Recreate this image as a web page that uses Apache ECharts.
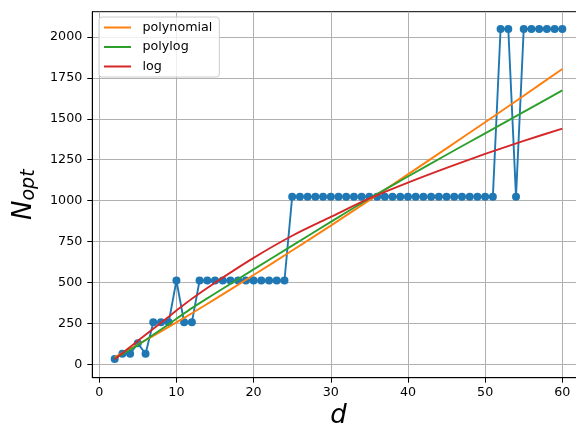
<!DOCTYPE html>
<html>
<head>
<meta charset="utf-8">
<script src="https://cdn.jsdelivr.net/npm/echarts@6/dist/echarts.min.js"></script>
<style>html,body{margin:0;padding:0;background:#fff;}#chart{width:576px;height:428px;}</style>
</head>
<body>
<div id="chart"></div>
<script>
// Observed optimal N for each d
const dValues = [2,3,4,5,6,7,8,9,10,11,12,13,14,15,16,17,18,19,20,21,22,23,24,25,26,27,28,29,30,31,32,33,34,35,36,37,38,39,40,41,42,43,44,45,46,47,48,49,50,51,52,53,54,55,56,57,58,59,60];
const nOpt = [32,64,64,128,64,256,256,256,512,256,256,
  512,512,512,512,512,512,512,512,512,512,512,512,
  1024,1024,1024,1024,1024,1024,1024,1024,1024,1024,1024,1024,1024,1024,1024,1024,1024,1024,1024,1024,1024,1024,1024,1024,1024,1024,1024,
  2048,2048,1024,2048,2048,2048,2048,2048,2048];
// Fitted curves
const fitD = [2,3,4,5,6,8,10,12,15,20,25,30,35,40,45,50,55,60];
const polynomialFit = [44,69,94,120,147,201,256,312,398,545,695,847,1003,1160,1319,1479,1641,1804];
const polylogFit = [37,62,89,117,148,212,278,343,432,580,725,870,1013,1147,1280,1411,1542,1673];
const logFit = [30,68,106,143,180,254,328,400,498,650,785,900,1013,1110,1200,1285,1365,1440];
// Tick labels
const xTicks = [0,10,20,30,40,50,60];
const yTicks = [0,250,500,750,1000,1250,1500,1750,2000];

const zip = (a, b) => a.map((v, i) => [v, b[i]]);
const font = 'DejaVu Sans';
const chart = echarts.init(document.getElementById('chart'), null, {renderer: 'canvas'});
const fitSeries = (name, color, vals) => ({
  name, type: 'line', data: zip(fitD, vals), symbol: 'none', smooth: 0.3,
  lineStyle: {color, width: 1.9}, itemStyle: {color}, z: 3
});
chart.setOption({
  animation: false,
  backgroundColor: '#fff',
  grid: {left: 92.3, top: 11.7, width: 492.4, height: 366, show: true, borderColor: '#000', borderWidth: 1, outerBoundsMode: 'none'},
  legend: {
    orient: 'vertical', left: 99, top: 17,
    data: ['polynomial', 'polylog', 'log'],
    itemWidth: 27, itemHeight: 14, itemGap: 6.5,
    padding: [4, 7, 4, 4],
    itemStyle: {opacity: 0},
    backgroundColor: 'rgba(255,255,255,0.8)', borderColor: '#cccccc', borderWidth: 1, borderRadius: 3,
    textStyle: {fontFamily: font, fontSize: 12.7, color: '#000', padding: [0, 0, 0, 6.5]}
  },
  xAxis: {
    type: 'value', min: -0.9, max: 62.9,
    name: 'd', nameLocation: 'middle', nameGap: 24,
    nameTextStyle: {fontFamily: font, fontStyle: 'italic', fontSize: 26, color: '#000'},
    axisLine: {show: true, onZero: false, lineStyle: {color: '#000', width: 1}},
    axisTick: {show: true, length: 5, customValues: xTicks, lineStyle: {color: '#000', width: 1}},
    axisLabel: {customValues: xTicks, margin: 8, fontFamily: font, fontSize: 12.7, color: '#000', formatter: v => String(v)},
    splitLine: {show: true, lineStyle: {color: '#b0b0b0', width: 1}}
  },
  yAxis: {
    type: 'value', min: -82, max: 2154,
    name: '{n|N}{s|opt}', nameLocation: 'middle', nameGap: 54,
    nameTextStyle: {color: '#000', rich: {
      n: {fontFamily: font, fontStyle: 'italic', fontSize: 26, color: '#000'},
      s: {fontFamily: font, fontStyle: 'italic', fontSize: 19, color: '#000', padding: [9, 0, 0, 0]}
    }},
    axisLine: {show: true, onZero: false, lineStyle: {color: '#000', width: 1}},
    axisTick: {show: true, length: 5, customValues: yTicks, lineStyle: {color: '#000', width: 1}},
    axisLabel: {customValues: yTicks, margin: 10, fontFamily: font, fontSize: 12.7, color: '#000', formatter: v => String(v)},
    splitLine: {show: true, lineStyle: {color: '#b0b0b0', width: 1}}
  },
  series: [
    {name: 'N_opt', type: 'line', data: zip(dValues, nOpt), symbol: 'circle', symbolSize: 8, showSymbol: true,
     lineStyle: {color: '#1f77b4', width: 1.9}, itemStyle: {color: '#1f77b4', borderWidth: 0}, z: 2},
    fitSeries('polynomial', '#ff7f0e', polynomialFit),
    fitSeries('polylog', '#2ca02c', polylogFit),
    fitSeries('log', '#d62728', logFit)
  ]
});
</script>
</body>
</html>
